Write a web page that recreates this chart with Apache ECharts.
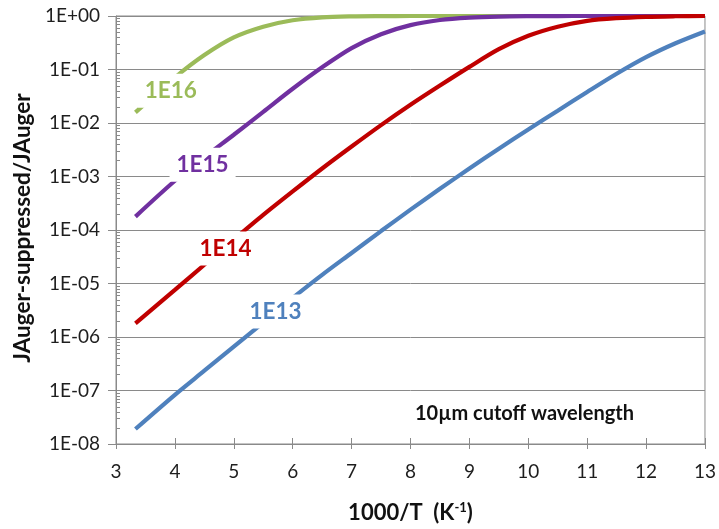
<!DOCTYPE html>
<html>
<head>
<meta charset="utf-8">
<script src="https://cdn.jsdelivr.net/npm/echarts@6/dist/echarts.min.js"></script>
<style>
  html, body { margin: 0; padding: 0; background: #fff; }
  #chart { width: 719px; height: 529px; }
</style>
</head>
<body>
<div id="chart"></div>
<script>
// Doping levels (cm^-3) of the four curves
const seriesNames = ['1E16', '1E15', '1E14', '1E13'];

// 1000/T sample positions shared by every curve
const invT = [3.33, 4, 4.5, 5, 5.5, 6, 6.5, 7, 7.5, 8, 8.5, 9, 9.5, 10, 10.5, 11, 11.5, 12, 12.5, 13];

// JAuger-suppressed / JAuger at each 1000/T value
const ratio1E16 = [0.0158, 0.0708, 0.186, 0.398, 0.631, 0.832, 0.944, 0.984, 0.995, 0.999,
                   1, 1, 1, 1, 1, 1, 1, 1, 1, 1];
const ratio1E15 = [1.78e-4, 8.32e-4, 2.29e-3, 6.03e-3, 0.0162, 0.0437, 0.110, 0.251, 0.457, 0.676,
                   0.841, 0.933, 0.977, 0.993, 0.998, 1, 1, 1, 1, 1];
const ratio1E14 = [1.80e-6, 7.59e-6, 2.24e-5, 6.61e-5, 1.91e-4, 5.25e-4, 1.41e-3, 3.63e-3, 9.12e-3, 0.0219,
                   0.0501, 0.112, 0.240, 0.427, 0.631, 0.813, 0.912, 0.966, 0.989, 1.0];
const ratio1E13 = [1.91e-8, 8.32e-8, 2.34e-7, 6.61e-7, 1.86e-6, 5.37e-6, 1.45e-5, 3.72e-5, 9.55e-5, 2.40e-4,
                   5.89e-4, 1.41e-3, 3.31e-3, 7.59e-3, 0.0170, 0.0380, 0.0832, 0.170, 0.309, 0.513];

// Where each curve's name is written (data coordinates)
const labelX = [3.93, 4.47, 4.86, 5.71];
const labelY = [0.0399, 0.00166, 4.51e-5, 3.0e-6];

// Axis tick labels
const xTicks = [3, 4, 5, 6, 7, 8, 9, 10, 11, 12, 13];
const yTickLabels = ['1E-08', '1E-07', '1E-06', '1E-05', '1E-04', '1E-03', '1E-02', '1E-01', '1E+00'];
// Minor tick multipliers inside each decade
const minorSteps = [2, 3, 4, 5, 6, 7, 8, 9];

const colors = ['#9BBB59', '#7030A0', '#C00000', '#4F81BD'];
const ratios = [ratio1E16, ratio1E15, ratio1E14, ratio1E13];

const FONT = 'Lato, "Open Sans", sans-serif';
const GRAY = '#8a8a8a';

const chart = echarts.init(document.getElementById('chart'), null, { renderer: 'canvas' });

const lineSeries = seriesNames.map((name, i) => ({
  name: name,
  type: 'line',
  xAxisIndex: 0,
  yAxisIndex: 0,
  data: invT.map((x, j) => [x, ratios[i][j]]),
  showSymbol: false,
  smooth: 0.3,
  lineStyle: { color: colors[i], width: 4.2 },
  z: 3
}));

const nameLabels = {
  type: 'scatter',
  xAxisIndex: 0,
  yAxisIndex: 0,
  symbolSize: 0,
  silent: true,
  z: 10,
  itemStyle: { opacity: 1 },
  data: seriesNames.map((name, i) => ({
    value: [labelX[i], labelY[i]],
    name: name,
    label: {
      show: true,
      position: 'inside',
      formatter: name,
      color: colors[i],
      opacity: 1,
      fontFamily: FONT,
      fontWeight: 'bold',
      fontSize: 22.5,
      backgroundColor: '#ffffff',
      padding: [9, 7, 2, 7]
    }
  }))
};

// Log-axis minor ticks: short marks just inside the left axis line at 2..9 x 10^n
const minorTickValues = [];
for (let e = -8; e < 0; e++) {
  minorSteps.forEach(k => minorTickValues.push([3, k * Math.pow(10, e)]));
}
const minorTicks = {
  type: 'custom',
  xAxisIndex: 0,
  yAxisIndex: 0,
  silent: true,
  z: 1,
  data: minorTickValues,
  renderItem: (params, api) => {
    const p = api.coord([api.value(0), api.value(1)]);
    const y = Math.round(p[1]) + 0.5;
    return {
      type: 'line',
      shape: { x1: p[0], y1: y, x2: p[0] + 4, y2: y },
      style: { stroke: GRAY, lineWidth: 1 }
    };
  }
};

const option = {
  backgroundColor: '#ffffff',
  animation: false,
  grid: {
    left: 116,
    right: 12,
    top: 16,
    bottom: 81,
    show: true,
    borderColor: GRAY,
    borderWidth: 1,
    backgroundColor: 'transparent'
  },
  xAxis: [
    {
      type: 'value',
      min: 3,
      max: 13,
      interval: 1,
      name: '{a|1000/T  (K}{s|-1}{a|)}',
      nameLocation: 'middle',
      nameGap: 57,
      nameTextStyle: {
        rich: {
          a: { fontFamily: FONT, fontWeight: 'bold', fontSize: 22, color: '#111' },
          s: { fontFamily: FONT, fontWeight: 'bold', fontSize: 13, color: '#111', verticalAlign: 'top', padding: [0, 0, 11, 0] }
        }
      },
      axisLine: { show: true, lineStyle: { color: GRAY, width: 1 } },
      axisTick: { show: true, inside: false, length: 5, lineStyle: { color: GRAY } },
      axisLabel: {
        margin: 18,
        fontFamily: FONT,
        fontSize: 19,
        color: '#1e1e1e',
        formatter: v => (xTicks.indexOf(v) >= 0 ? String(v) : '')
      },
      splitLine: { show: false }
    },
    {
      // upper half of the crossing ticks on the bottom axis
      type: 'value',
      position: 'bottom',
      min: 3,
      max: 13,
      interval: 1,
      axisLine: { show: false },
      axisTick: { show: true, inside: true, length: 6, lineStyle: { color: GRAY } },
      axisLabel: { show: false },
      splitLine: { show: false }
    }
  ],
  yAxis: [
    {
      type: 'log',
      logBase: 10,
      min: 1e-8,
      max: 1,
      name: 'JAuger-suppressed/JAuger',
      nameLocation: 'middle',
      nameGap: 80,
      nameTextStyle: {
        fontFamily: FONT,
        fontWeight: 'bold',
        fontSize: 22.5,
        color: '#111',
        padding: [0, 0, 0, 4]
      },
      axisLine: { show: true, lineStyle: { color: GRAY, width: 1 } },
      axisTick: { show: true, inside: false, length: 8, lineStyle: { color: GRAY } },
      axisLabel: {
        margin: 16,
        fontFamily: FONT,
        fontSize: 19,
        color: '#1e1e1e',
        formatter: v => yTickLabels[Math.round(Math.log10(v)) + 8]
      },
      splitLine: { show: true, lineStyle: { color: GRAY, width: 1 } }
    }
  ],
  series: lineSeries.concat([nameLabels, minorTicks]),
  graphic: [
    {
      type: 'text',
      left: 415,
      top: 404,
      z: 20,
      style: {
        text: '10µm cutoff wavelength',
        fontFamily: FONT,
        fontWeight: 'bold',
        fontSize: 20,
        fill: '#111'
      }
    }
  ]
};

chart.setOption(option);
</script>
</body>
</html>
